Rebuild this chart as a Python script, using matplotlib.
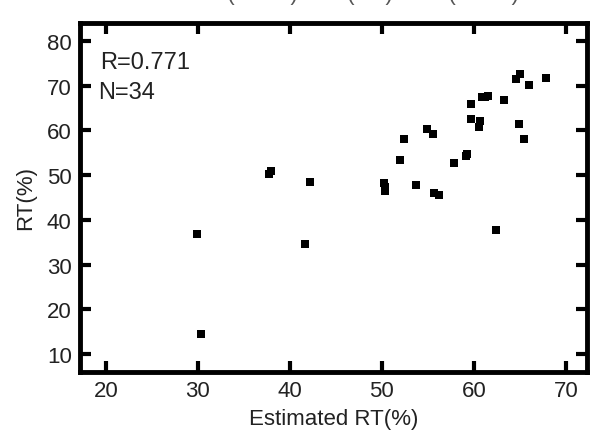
import matplotlib
matplotlib.use("Agg")
import matplotlib.pyplot as plt

plt.rcParams['font.family'] = ['Liberation Sans', 'DejaVu Sans']

# estimated RT vs measured RT
est_rt = [42.2, 50.2, 50.4, 50.3, 53.7, 55.7, 56.2, 52.0, 52.4, 54.9,
          55.6, 57.8, 59.1, 59.3, 59.65, 60.9, 61.5, 61.2, 59.65, 60.7,
          60.6, 63.3, 64.9, 65.5, 64.55, 65.0, 66.0, 67.8, 37.7, 38.0,
          29.9, 30.3, 41.6, 62.4]
rt = [48.4, 48.2, 46.5, 47.3, 47.8, 46.1, 45.6, 53.4, 58.0, 60.3,
      59.2, 52.6, 54.3, 54.8, 65.9, 67.4, 67.7, 67.5, 62.5, 62.1,
      60.7, 66.8, 61.5, 58.0, 71.4, 72.6, 70.2, 71.8, 50.2, 51.0,
      36.8, 14.5, 34.6, 37.8]

x_ticks = [20, 30, 40, 50, 60, 70]
y_ticks = [10, 20, 30, 40, 50, 60, 70, 80]
r_text = "R=0.771"
n_text = "N=34"

fig = plt.figure(figsize=(5.96, 4.39), dpi=100)
ax = fig.add_axes([80 / 596, 1 - 373 / 439, 507 / 596, 349 / 439])

ax.scatter(est_rt, rt, marker='s', s=36, color='black', linewidths=0)

ax.set_xlim(17.2, 72.3)
ax.set_ylim(6, 84)
ax.set_xticks(x_ticks)
ax.set_yticks(y_ticks)
ax.tick_params(direction='in', length=8, width=3, top=True, right=True,
               labelsize=16, pad=6, colors='black')
ax.tick_params(axis='both', labelcolor='#222222')
for sp in ax.spines.values():
    sp.set_linewidth(3.5)

ax.set_xlabel("Estimated RT(%)", fontsize=16, labelpad=5, color='#222222')
ax.set_ylabel("RT(%)", fontsize=16, labelpad=8, color='#222222')

ax.text(0.04, 0.92, r_text, transform=ax.transAxes, fontsize=17,
        va='top', ha='left', color='#222222')
ax.text(0.035, 0.835, n_text, transform=ax.transAxes, fontsize=17,
        va='top', ha='left', color='#222222')

# header line cut off at the top edge of the picture
fig.text(0.5, 1.0 - 5 / 439, "A:   TL.SS 0.2L(0.001)  0.5 (0.2)  0.3L(0.001)",
         ha='center', va='bottom', fontsize=16, color='#555555')

fig.savefig("out.png", dpi=100, facecolor="white")
